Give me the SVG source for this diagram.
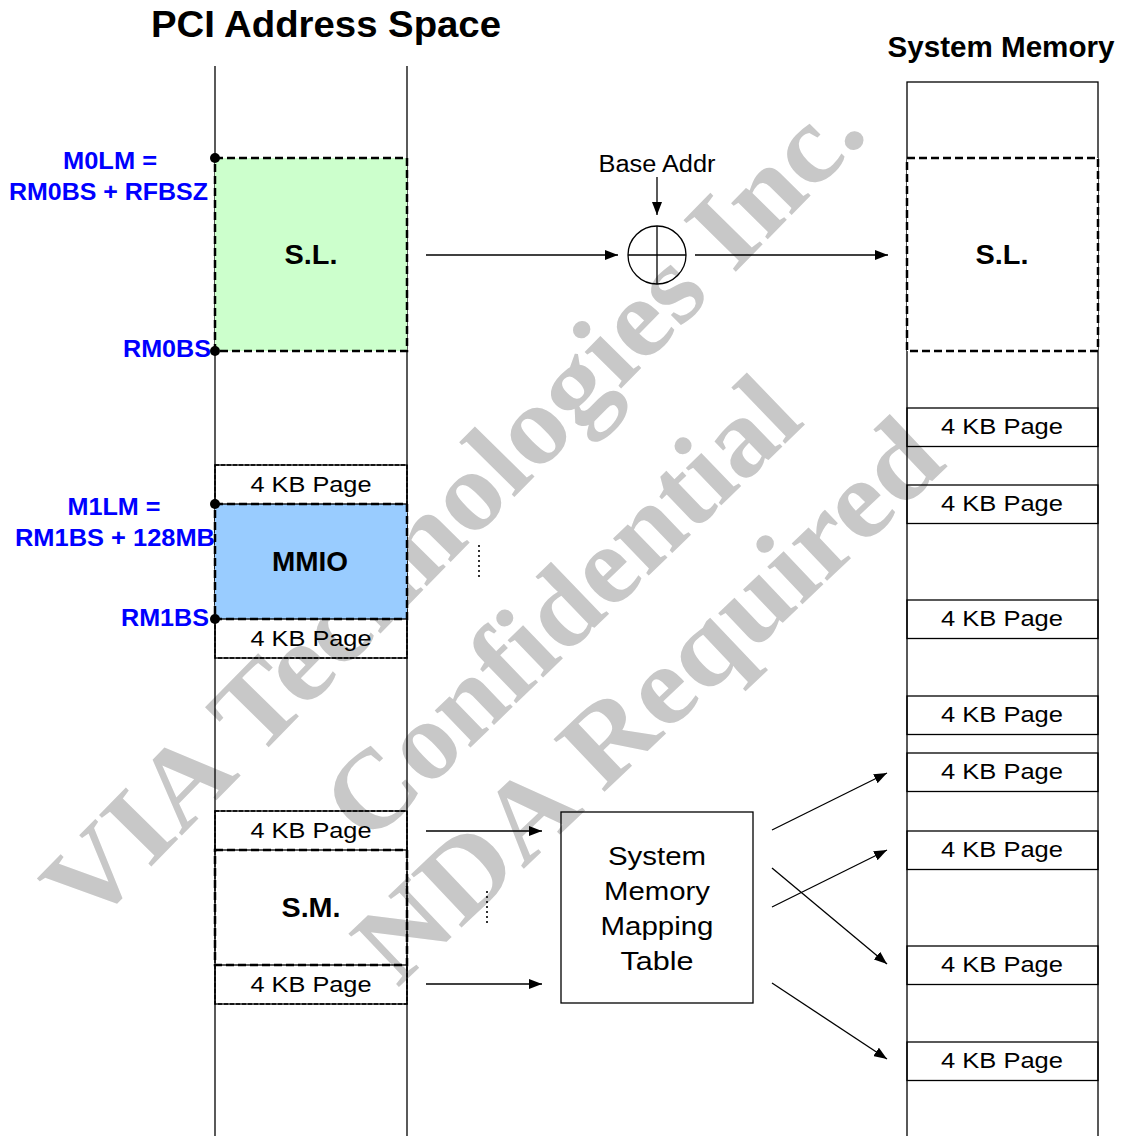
<svg xmlns="http://www.w3.org/2000/svg" width="1122" height="1136" viewBox="0 0 1122 1136">
  <style>
    .title { font-family: "Liberation Sans", Arial, sans-serif; font-weight: bold; fill: #000; }
    .reg { font-family: "Liberation Sans", Arial, sans-serif; fill: #000; }
    .bold { font-family: "Liberation Sans", Arial, sans-serif; font-weight: bold; fill: #000; }
    .blue { font-family: "Liberation Sans", Arial, sans-serif; font-weight: bold; fill: #0000ff; font-size: 23px; }
    .page { font-size: 22px; }
    .wm { font-family: "Liberation Serif", "Times New Roman", serif; font-weight: bold; fill: #c8c8c8; font-size: 112px; }
    .line { stroke: #000; stroke-width: 1.3; fill: none; }
    .box { stroke: #000; stroke-width: 1.3; fill: none; }
    .dash { stroke: #000; stroke-width: 2.5; stroke-dasharray: 8 4; }
    .thindash { stroke: #000; stroke-width: 1.3; stroke-dasharray: 4 2; fill: none; }
    .dots { stroke: #000; stroke-width: 1.6; stroke-dasharray: 2 3; fill: none; }
    .conn { stroke: #000; stroke-width: 1.3; fill: none; marker-end: url(#arrow); }
  </style>
  <defs>
    <marker id="arrow" markerUnits="userSpaceOnUse" markerWidth="14" markerHeight="10" refX="13" refY="5" orient="auto">
      <path d="M0,0 L13,5 L0,10 z" fill="#000"/>
    </marker>
  </defs>

  <rect width="1122" height="1136" fill="#fff"/>

  <!-- watermark -->
  <g id="watermark">
    <text class="wm" x="479" y="533" text-anchor="middle" textLength="1115" lengthAdjust="spacingAndGlyphs" transform="rotate(-45.5 479 533)">VIA Technologies Inc.</text>
    <text class="wm" x="587" y="635" text-anchor="middle" textLength="610" lengthAdjust="spacingAndGlyphs" transform="rotate(-44 587 635)">Confidential</text>
    <text class="wm" x="673" y="727" text-anchor="middle" textLength="760" lengthAdjust="spacingAndGlyphs" transform="rotate(-43.5 673 727)">NDA Required</text>
  </g>

  <!-- titles -->
  <text class="title" x="326" y="37" font-size="37" text-anchor="middle" textLength="350" lengthAdjust="spacingAndGlyphs">PCI Address Space</text>
  <text class="title" x="1001" y="57" font-size="29" text-anchor="middle" textLength="227" lengthAdjust="spacingAndGlyphs">System Memory</text>

  <!-- PCI address space column -->
  <g id="pci-space">
    <line class="line" x1="215" y1="66" x2="215" y2="1136"/>
    <line class="line" x1="407" y1="66" x2="407" y2="1136"/>
  </g>

  <!-- S.L. region in PCI space -->
  <g id="pci-sl">
    <rect x="215" y="158" width="192" height="193" fill="#ccffcc" class="dash"/>
    <text class="bold" x="311" y="264" font-size="28" text-anchor="middle" textLength="53" lengthAdjust="spacingAndGlyphs">S.L.</text>
    <circle cx="215" cy="158" r="5" fill="#000"/>
    <circle cx="215" cy="351" r="5" fill="#000"/>
    <text class="blue" x="110" y="169" text-anchor="middle" textLength="94" lengthAdjust="spacingAndGlyphs">M0LM =</text>
    <text class="blue" x="9" y="200" textLength="199" lengthAdjust="spacingAndGlyphs">RM0BS + RFBSZ</text>
    <text class="blue" x="123" y="357" textLength="88" lengthAdjust="spacingAndGlyphs">RM0BS</text>
  </g>

  <!-- MMIO region with neighbouring pages -->
  <g id="pci-mmio">
    <rect class="thindash" x="215" y="465" width="192" height="193"/>
    <rect x="215" y="504" width="192" height="115" fill="#99ccff" class="dash"/>
    <rect class="box" x="215" y="465" width="192" height="39"/>
    <rect class="box" x="215" y="619" width="192" height="39"/>
    <text class="reg page" x="311" y="492" text-anchor="middle" textLength="121" lengthAdjust="spacingAndGlyphs">4 KB Page</text>
    <text class="bold" x="310" y="571" font-size="28" text-anchor="middle" textLength="76" lengthAdjust="spacingAndGlyphs">MMIO</text>
    <text class="reg page" x="311" y="646" text-anchor="middle" textLength="121" lengthAdjust="spacingAndGlyphs">4 KB Page</text>
    <circle cx="215" cy="504" r="5" fill="#000"/>
    <circle cx="215" cy="619" r="5" fill="#000"/>
    <text class="blue" x="114" y="515" text-anchor="middle" textLength="93" lengthAdjust="spacingAndGlyphs">M1LM =</text>
    <text class="blue" x="15" y="546" textLength="200" lengthAdjust="spacingAndGlyphs">RM1BS + 128MB</text>
    <text class="blue" x="121" y="626" textLength="88" lengthAdjust="spacingAndGlyphs">RM1BS</text>
  </g>

  <!-- S.M. region with its pages -->
  <g id="pci-sm">
    <rect class="thindash" x="215" y="811" width="192" height="193"/>
    <rect x="215" y="850" width="192" height="115" fill="none" class="dash"/>
    <rect class="box" x="215" y="811" width="192" height="39"/>
    <rect class="box" x="215" y="965" width="192" height="39"/>
    <text class="reg page" x="311" y="838" text-anchor="middle" textLength="121" lengthAdjust="spacingAndGlyphs">4 KB Page</text>
    <text class="bold" x="311" y="917" font-size="28" text-anchor="middle" textLength="59" lengthAdjust="spacingAndGlyphs">S.M.</text>
    <text class="reg page" x="311" y="992" text-anchor="middle" textLength="121" lengthAdjust="spacingAndGlyphs">4 KB Page</text>
  </g>

  <!-- adder with base address input -->
  <g id="adder">
    <circle class="line" cx="657" cy="255" r="29"/>
    <line class="line" x1="628" y1="255" x2="686" y2="255"/>
    <line class="line" x1="657" y1="226" x2="657" y2="284"/>
    <text class="reg" x="657" y="172" font-size="23" text-anchor="middle" textLength="117" lengthAdjust="spacingAndGlyphs">Base Addr</text>
  </g>

  <!-- mapping table -->
  <g id="mapping-table">
    <rect class="box" x="561" y="812" width="192" height="191"/>
    <text class="reg" x="657" y="865" font-size="26" text-anchor="middle" textLength="98" lengthAdjust="spacingAndGlyphs">System</text>
    <text class="reg" x="657" y="900" font-size="26" text-anchor="middle" textLength="106" lengthAdjust="spacingAndGlyphs">Memory</text>
    <text class="reg" x="657" y="935" font-size="26" text-anchor="middle" textLength="113" lengthAdjust="spacingAndGlyphs">Mapping</text>
    <text class="reg" x="657" y="970" font-size="26" text-anchor="middle" textLength="73" lengthAdjust="spacingAndGlyphs">Table</text>
  </g>

  <!-- system memory column -->
  <g id="system-memory">
    <rect class="box" x="907" y="82" width="191" height="1070"/>
    <rect x="907" y="158" width="191" height="193" fill="#fff" class="dash"/>
    <text class="bold" x="1002" y="264" font-size="28" text-anchor="middle" textLength="53" lengthAdjust="spacingAndGlyphs">S.L.</text>
    <g class="reg page">
      <rect class="box" x="907" y="408" width="191" height="38.5"/>
      <text x="1002" y="434" text-anchor="middle" textLength="122" lengthAdjust="spacingAndGlyphs">4 KB Page</text>
      <rect class="box" x="907" y="485" width="191" height="38.5"/>
      <text x="1002" y="511" text-anchor="middle" textLength="122" lengthAdjust="spacingAndGlyphs">4 KB Page</text>
      <rect class="box" x="907" y="600" width="191" height="38.5"/>
      <text x="1002" y="626" text-anchor="middle" textLength="122" lengthAdjust="spacingAndGlyphs">4 KB Page</text>
      <rect class="box" x="907" y="696" width="191" height="38.5"/>
      <text x="1002" y="722" text-anchor="middle" textLength="122" lengthAdjust="spacingAndGlyphs">4 KB Page</text>
      <rect class="box" x="907" y="753" width="191" height="38.5"/>
      <text x="1002" y="779" text-anchor="middle" textLength="122" lengthAdjust="spacingAndGlyphs">4 KB Page</text>
      <rect class="box" x="907" y="831" width="191" height="38.5"/>
      <text x="1002" y="857" text-anchor="middle" textLength="122" lengthAdjust="spacingAndGlyphs">4 KB Page</text>
      <rect class="box" x="907" y="946" width="191" height="38.5"/>
      <text x="1002" y="972" text-anchor="middle" textLength="122" lengthAdjust="spacingAndGlyphs">4 KB Page</text>
      <rect class="box" x="907" y="1042" width="191" height="38.5"/>
      <text x="1002" y="1068" text-anchor="middle" textLength="122" lengthAdjust="spacingAndGlyphs">4 KB Page</text>
    </g>
  </g>

  <!-- connectors -->
  <g id="connectors">
    <line class="conn" x1="426" y1="255" x2="618" y2="255"/>
    <line class="conn" x1="695" y1="255" x2="888" y2="255"/>
    <line class="conn" x1="657" y1="177" x2="657" y2="215"/>
    <line class="conn" x1="426" y1="831" x2="542" y2="831"/>
    <line class="conn" x1="426" y1="984" x2="542" y2="984"/>
    <line class="conn" x1="772" y1="830" x2="887" y2="773"/>
    <line class="conn" x1="772" y1="907" x2="887" y2="850"/>
    <line class="conn" x1="772" y1="868" x2="887" y2="964"/>
    <line class="conn" x1="772" y1="983" x2="887" y2="1059"/>
    <line class="dots" x1="479" y1="545" x2="479" y2="578"/>
    <line class="dots" x1="487" y1="891" x2="487" y2="924"/>
  </g>
</svg>
